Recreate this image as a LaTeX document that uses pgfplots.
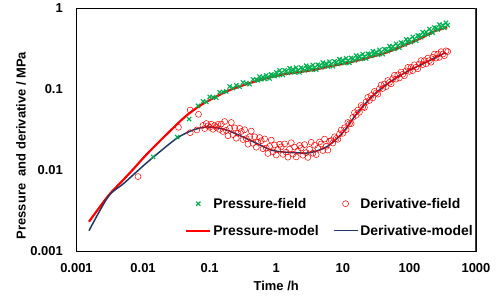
\documentclass[border=0pt]{standalone}
\usepackage{pgfplots}
\pgfplotsset{compat=1.18}
\usepackage{fontspec}
\setmainfont{Liberation Sans}
\definecolor{fgreen}{RGB}{0,176,80}
\definecolor{navy}{RGB}{31,56,100}
\pgfplotsset{
  markleg/.style={legend image code/.code={\draw[mark repeat=2,mark phase=2,##1] plot coordinates {(0bp,0bp)(12bp,0bp)(24bp,0bp)};}},
  lineleg/.style={legend image code/.code={\draw[##1] (0bp,0bp) -- (24bp,0bp);}},
}
\begin{document}
\begin{tikzpicture}
\path[use as bounding box] (-76.5bp,-47bp) rectangle (423.5bp,251bp);
\begin{axis}[
  at={(0,0)}, anchor=south west,
  xmode=log, ymode=log,
  scale only axis, width=399.5bp, height=243bp,
  xmin=0.001, xmax=1000, ymin=0.001, ymax=1,
  xtick={0.001,0.01,0.1,1,10,100,1000},
  xticklabels={0.001,0.01,0.1,1,10,100,1000},
  ytick={0.001,0.01,0.1,1},
  yticklabels={0.001,0.01,0.1,1},
  xminorticks=false, yminorticks=false,
  tick style={draw=none},
  axis line style={black, line width=0.8bp},
  tick label style={font=\fontsize{13}{13}\selectfont\bfseries},
  yticklabel style={anchor=east, inner sep=0pt, xshift=-13.5bp},
  xticklabel style={anchor=north, inner sep=0pt, yshift=-12bp},
  xlabel={Time /h},
  ylabel={Pressure\ \ and derivative / MPa},
  label style={font=\fontsize{13}{13}\selectfont\bfseries},
  xlabel style={at={(axis description cs:0.5,-0.144)}, anchor=center},
  ylabel style={at={(axis description cs:-0.139,0.434)}, anchor=center},
  legend columns=2,
  legend cell align=left,
  legend style={draw=none, fill=none, at={(axis description cs:0.2716,0.2243)}, anchor=north west,
    inner sep=0pt, row sep=13bp, column sep=0pt,
    font=\fontsize{14}{14}\selectfont\bfseries,
    nodes={inner sep=2bp, text height=10bp, text depth=0bp},
    /tikz/every even column/.append style={column sep=12bp}},
]
\addplot[only marks, mark=x, mark size=3bp, draw=fgreen, line width=1.1bp, markleg]
coordinates {
(0.0141,0.0145) (0.0325,0.0255) (0.049,0.0426) (0.067,0.062)
(0.0794,0.0705) (0.0891,0.0692) (0.1,0.0800) (0.1122,0.0791) (0.1259,0.0783) (0.1413,0.0911) (0.1585,0.0923) (0.1778,0.0935) (0.1995,0.1076) (0.2239,0.1024) (0.2512,0.1107) (0.2818,0.1067) (0.3162,0.1208) (0.3548,0.1178) (0.3981,0.1148) (0.4467,0.1314) (0.5012,0.1309)
(0.5309,0.1280) (0.5623,0.1421) (0.5957,0.1327) (0.6310,0.1406) (0.6683,0.1328) (0.7079,0.1474) (0.7499,0.1408) (0.7943,0.1346) (0.8414,0.1511) (0.8913,0.1477) (0.9441,0.1444)
(1.000,0.1603) (1.059,0.1477) (1.122,0.1694) (1.189,0.1579) (1.259,0.1489) (1.334,0.1703) (1.413,0.1658) (1.496,0.1576) (1.585,0.1803) (1.679,0.1637)
(1.778,0.1748) (1.884,0.1606) (1.995,0.1837) (2.113,0.1706) (2.239,0.1603) (2.371,0.1832) (2.512,0.1782) (2.661,0.1695) (2.818,0.1939) (2.985,0.1761)
(3.162,0.1879) (3.350,0.1729) (3.548,0.1979) (3.758,0.1842) (3.981,0.1734) (4.217,0.1987) (4.467,0.1939) (4.732,0.1848) (5.012,0.2118) (5.309,0.1929)
(5.623,0.2063) (5.957,0.1899) (6.310,0.2178) (6.683,0.2028) (7.079,0.1910) (7.499,0.2188) (7.943,0.2133) (8.414,0.2033) (8.913,0.2331) (9.441,0.2122)
(10.00,0.2270) (10.59,0.2092) (11.22,0.2399) (11.89,0.2236) (12.59,0.2109) (13.34,0.2421) (14.13,0.2366) (14.96,0.2259) (15.85,0.2594) (16.79,0.2367)
(17.78,0.2538) (18.84,0.2343) (19.95,0.2692) (21.13,0.2513) (22.39,0.2374) (23.71,0.2728) (25.12,0.2667) (26.61,0.2548) (28.18,0.2927) (29.85,0.2672)
(31.62,0.2864) (33.50,0.2647) (35.48,0.3044) (37.58,0.2846) (39.81,0.2692) (42.17,0.3105) (44.67,0.3051) (47.32,0.2929) (50.12,0.3381) (53.09,0.3107)
(56.23,0.3357) (59.57,0.3122) (63.10,0.3614) (66.83,0.3398) (70.79,0.3232) (74.99,0.3738) (79.43,0.3681) (84.14,0.3546) (89.13,0.4107) (94.41,0.3777)
(100.0,0.4083) (105.9,0.3799) (112.2,0.4401) (118.9,0.4142) (125.9,0.3945) (133.4,0.4573) (141.3,0.4513) (149.6,0.4352) (158.5,0.5047) (167.9,0.4664)
(177.8,0.5064) (188.4,0.4734) (199.5,0.5508) (211.3,0.5190) (223.9,0.4948) (237.1,0.5737) (251.2,0.5662) (266.1,0.5426) (281.8,0.6252) (298.5,0.5721)
(316.2,0.6152) (335.0,0.5691) (354.8,0.6554) (375.8,0.6134)
};
\addlegendentry{Pressure-field}
\addplot[only marks, mark=o, mark size=3bp, draw=red, line width=0.5bp, markleg]
coordinates {
(0.0084,0.0083) (0.034,0.0337) (0.051,0.055) (0.051,0.0289) (0.064,0.0312) (0.068,0.0487)
(0.0794,0.0355) (0.0841,0.0325) (0.0891,0.0375) (0.0944,0.0351) (0.1,0.0337) (0.1059,0.0367) (0.1122,0.0318) (0.1189,0.0354) (0.1259,0.0336) (0.1334,0.0366) (0.1413,0.0317)
(0.1496,0.0370) (0.1585,0.0299) (0.1679,0.0397) (0.1778,0.0309) (0.1884,0.0265) (0.1995,0.0327) (0.2113,0.0386) (0.2239,0.0274) (0.2371,0.0331) (0.2512,0.0247)
(0.2661,0.0284) (0.2818,0.0327) (0.2985,0.0299) (0.3162,0.0238) (0.3350,0.0314) (0.3548,0.0244) (0.3758,0.0208) (0.3981,0.0257) (0.4217,0.0302) (0.4467,0.0214)
(0.4732,0.0257) (0.5012,0.0191) (0.5309,0.0220) (0.5623,0.0252) (0.5957,0.0230) (0.6310,0.0183) (0.6683,0.0242) (0.7079,0.0187) (0.7499,0.0160) (0.7943,0.0196)
(0.8414,0.0234) (0.8913,0.0168) (0.9441,0.0204) (1.000,0.0153) (1.059,0.0179) (1.122,0.0208) (1.189,0.0193) (1.259,0.0156) (1.334,0.0210) (1.413,0.0166)
(1.496,0.0144) (1.585,0.0181) (1.679,0.0217) (1.778,0.0157) (1.884,0.0192) (1.995,0.0145) (2.113,0.0171) (2.239,0.0201) (2.371,0.0187) (2.512,0.0152)
(2.661,0.0206) (2.818,0.0164) (2.985,0.0143) (3.162,0.0180) (3.350,0.0220) (3.548,0.0161) (3.758,0.0202) (3.981,0.0155) (4.217,0.0185) (4.467,0.0222)
(4.732,0.0210) (5.012,0.0174) (5.309,0.0241) (5.623,0.0196) (5.957,0.0176) (6.310,0.0227)
(6.683,0.0231) (7.079,0.0215) (7.499,0.0257) (7.943,0.0245) (8.414,0.0239) (8.913,0.0279) (9.441,0.0312) (10.00,0.0284) (10.59,0.0332) (11.22,0.0315)
(11.89,0.0386) (12.59,0.0375) (13.34,0.0373) (14.13,0.0447) (14.96,0.0511) (15.85,0.0474) (16.79,0.0549) (17.78,0.0516) (18.84,0.0625) (19.95,0.0601)
(21.13,0.0591) (22.39,0.0698) (23.71,0.0788) (25.12,0.0723) (26.61,0.0830) (28.18,0.0775) (29.85,0.0933) (31.62,0.0891) (33.50,0.0864) (35.48,0.1007)
(37.58,0.1121) (39.81,0.1014) (42.17,0.1154) (44.67,0.1068) (47.32,0.1273) (50.12,0.1205) (53.09,0.1158) (56.23,0.1338) (59.57,0.1477) (63.10,0.1324)
(66.83,0.1495) (70.79,0.1371) (74.99,0.1620) (79.43,0.1521) (84.14,0.1457) (89.13,0.1679) (94.41,0.1848) (100.0,0.1652) (105.9,0.1854) (112.2,0.1692)
(118.9,0.1989) (125.9,0.1858) (133.4,0.1776) (141.3,0.2042) (149.6,0.2241) (158.5,0.2000) (167.9,0.2244) (177.8,0.2046) (188.4,0.2404) (199.5,0.2244)
(211.3,0.2143) (223.9,0.2460) (237.1,0.2698) (251.2,0.2404) (266.1,0.2698) (281.8,0.2460) (298.5,0.2891) (316.2,0.2698) (335.0,0.2577) (354.8,0.2961) (375.8,0.2900)
};
\addlegendentry{Derivative-field}
\addplot[red, line width=2.2bp, smooth, no marks, lineleg]
coordinates {
(0.00154,0.0023) (0.0030,0.0048) (0.0050,0.0075) (0.0071,0.0102) (0.01,0.0140) (0.0127,0.0172) (0.02,0.0250) (0.036,0.0400) (0.05,0.0505) (0.072,0.0625) (0.1,0.073) (0.2,0.097) (0.5,0.125) (1.15,0.149) (2,0.160) (3.6,0.172) (6,0.188) (11.7,0.21) (20,0.234) (36.7,0.267) (46,0.283) (81,0.342) (146,0.42) (230,0.51) (370,0.577)
};
\addlegendentry{Pressure-model}
\addplot[navy, line width=1.5bp, smooth, no marks, lineleg]
coordinates {
(0.00154,0.00178) (0.0030,0.0047) (0.0050,0.0067) (0.0071,0.0087) (0.0127,0.0133) (0.032,0.0246) (0.057,0.0312) (0.091,0.0340) (0.161,0.0320) (0.288,0.0265) (0.57,0.0204) (0.81,0.0178) (1.15,0.0168) (2.0,0.0163) (3.24,0.0164) (5.78,0.0194) (10,0.029) (16.3,0.050) (29,0.0843) (51.8,0.123) (92,0.164) (164,0.207) (348,0.281)
};
\addlegendentry{Derivative-model}
\draw[black!75, line width=2bp] (rel axis cs:1,0) -- (rel axis cs:1,1);
\end{axis}
\end{tikzpicture}
\end{document}
